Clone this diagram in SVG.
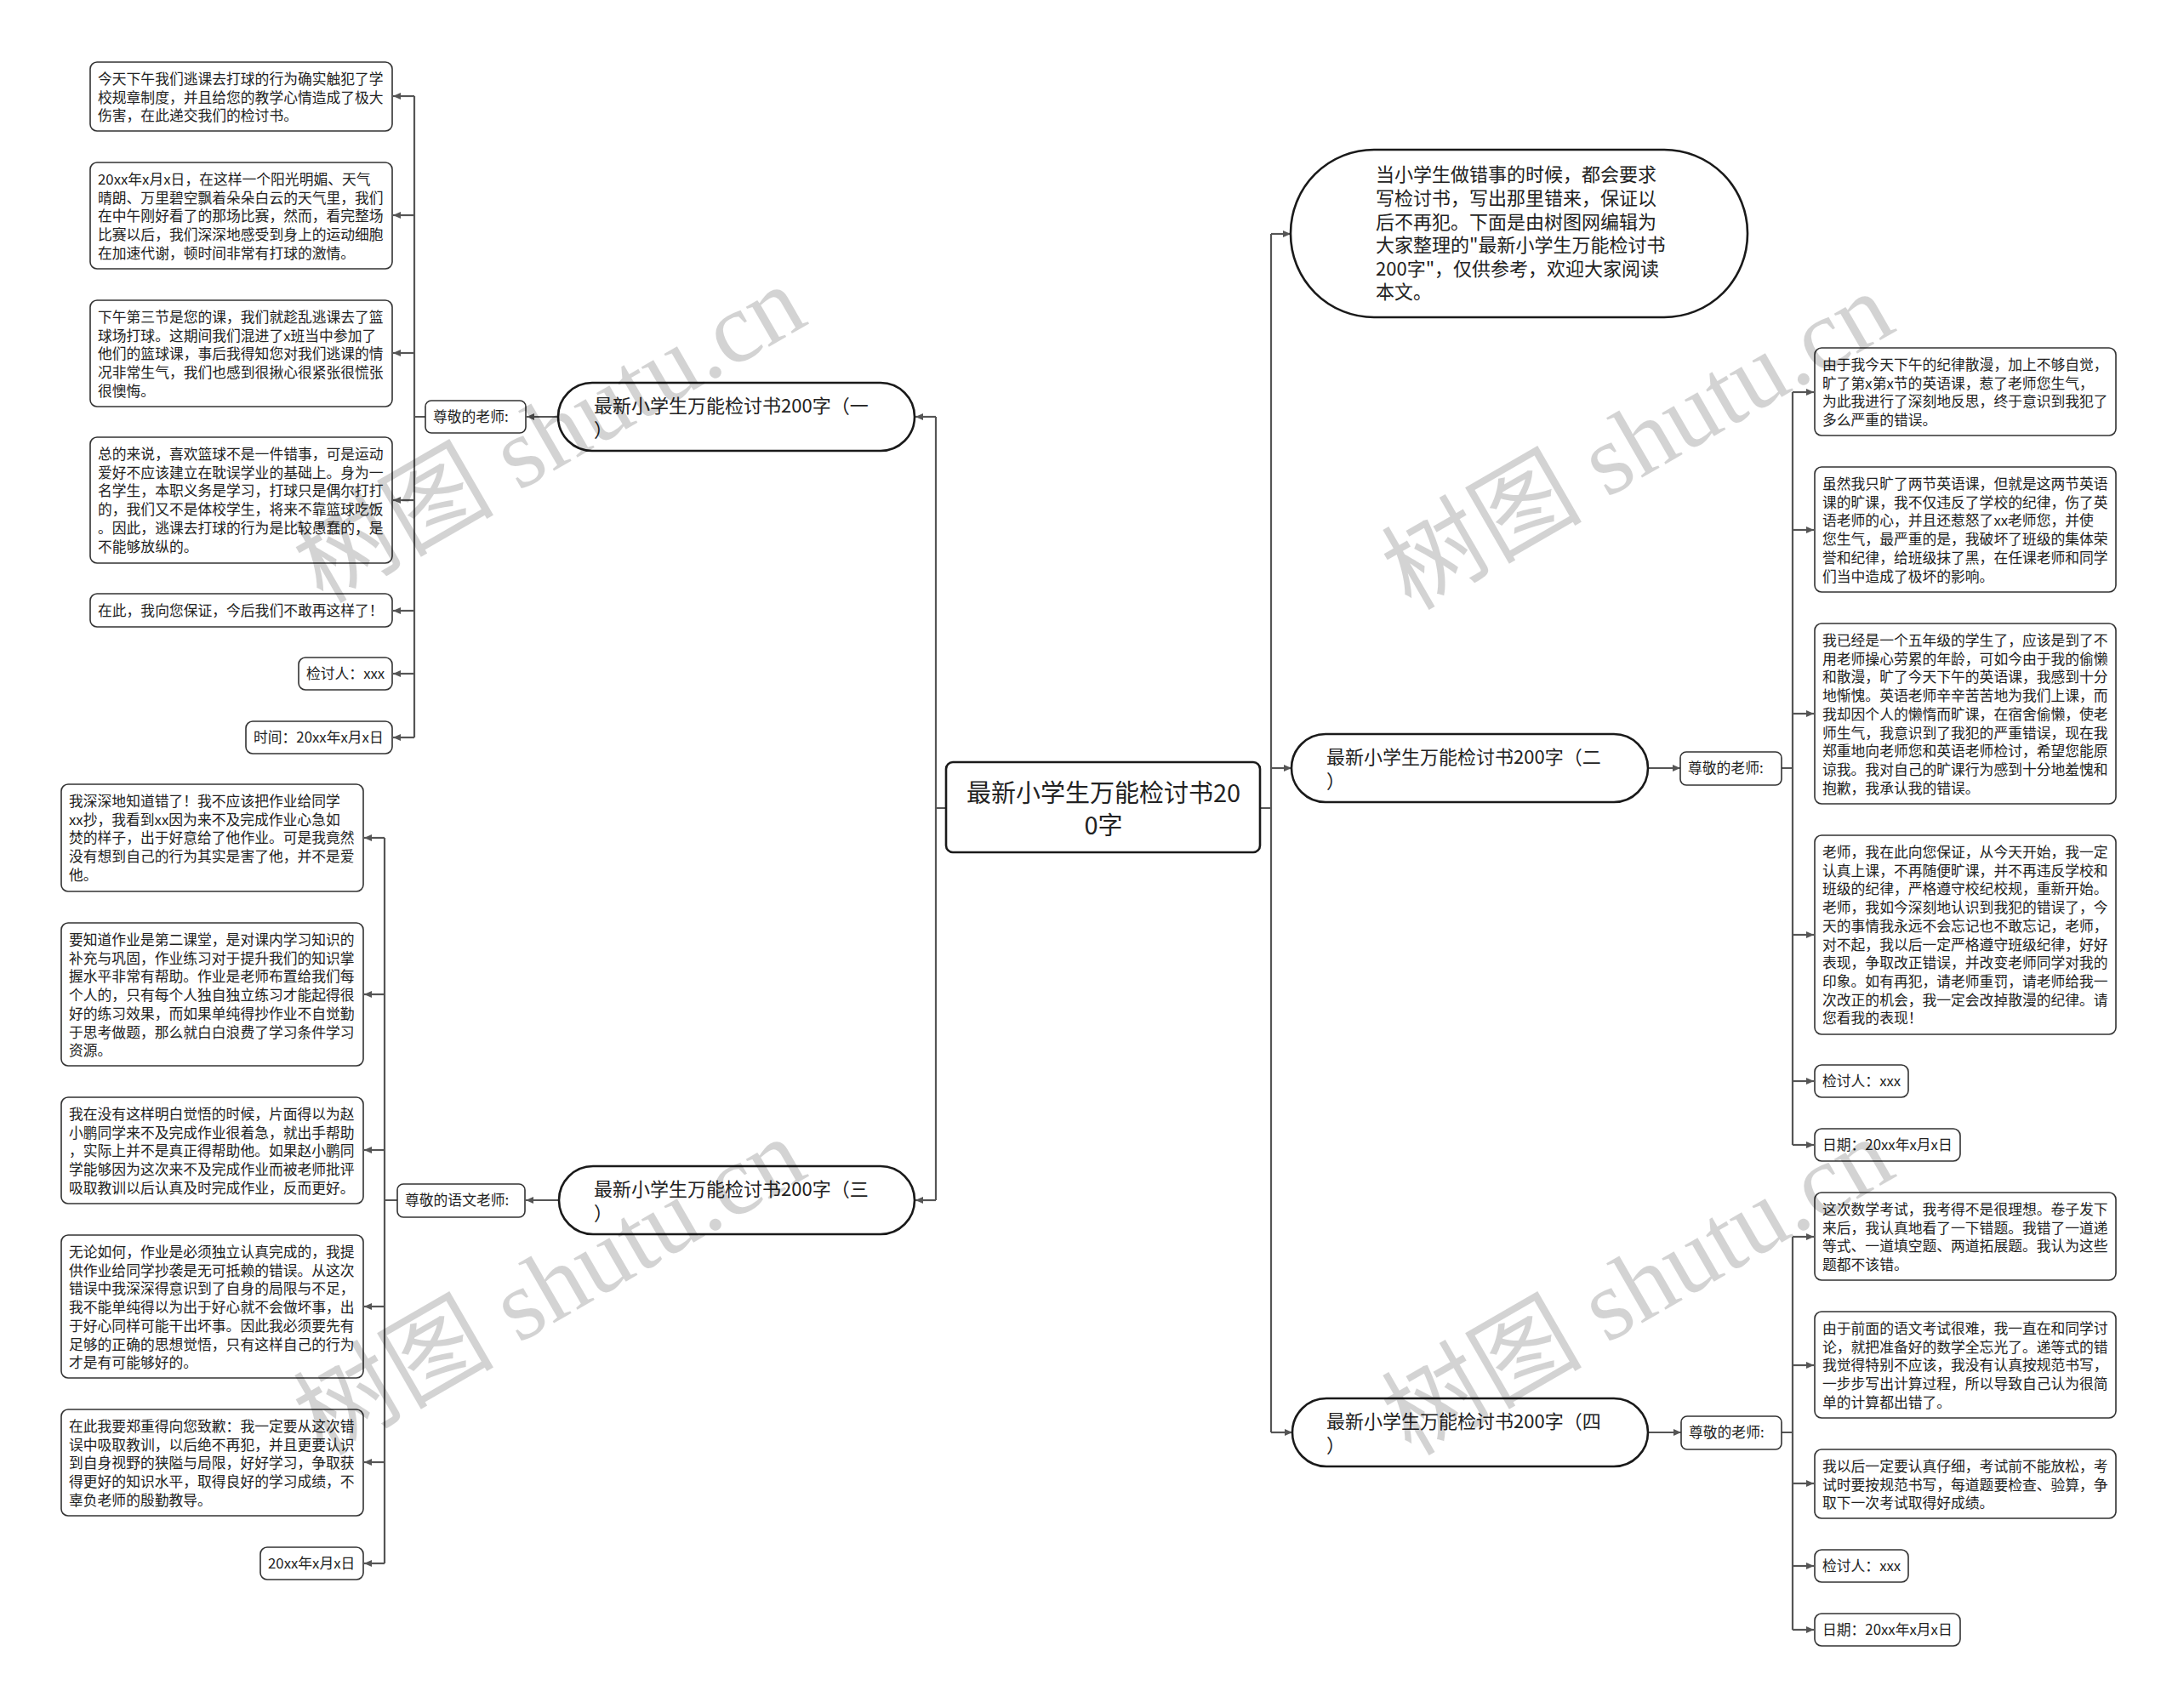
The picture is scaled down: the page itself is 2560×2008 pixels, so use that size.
<svg xmlns="http://www.w3.org/2000/svg" width="2560" height="2008" viewBox="0 0 2560 2008">
<style>
.t{font-family:"Noto Sans CJK SC","Noto Sans",sans-serif;font-size:16.8px;fill:#222}
.b{font-family:"Noto Sans CJK SC","Noto Sans",sans-serif;font-size:22px;fill:#222}
.c{font-family:"Noto Sans CJK SC","Noto Sans",sans-serif;font-size:29px;fill:#222}
.leaf{fill:#fff;stroke:#333;stroke-width:1.6}
.br{fill:#fff;stroke:#1a1a1a;stroke-width:2.6}
.ln{fill:none;stroke:#555;stroke-width:2.2}
.ar{fill:none;stroke:#555;stroke-width:2.2;marker-end:url(#ah)}
.wm{font-family:"Liberation Serif","Noto Sans CJK SC",serif;font-size:118px;fill:#000;opacity:0.17}
</style>
<defs>
<marker id="ah" markerUnits="userSpaceOnUse" markerWidth="9" markerHeight="8" refX="9" refY="4" orient="auto">
<path d="M0,0 L9,4 L0,8 z" fill="#555"/>
</marker>
</defs>
<rect width="2560" height="2008" fill="#fff"/>

<g id="connectors">
<path class="ln" d="M1481,950 H1494 M1494,275 V1684"/>
<path class="ln" d="M1112,950 H1100 M1100,490 V1411"/>
<path class="ar" d="M1494,275 H1517"/>
<path class="ar" d="M1494,903 H1518"/>
<path class="ar" d="M1494,1684 H1519"/>
<path class="ar" d="M1100,490 H1076"/>
<path class="ar" d="M1100,1411 H1076"/>
<path class="ar" d="M656,490 H619"/>
<path class="ar" d="M657,1411 H618"/>
<path class="ar" d="M1937,903 H1975"/>
<path class="ar" d="M1937,1684 H1976"/>
<path class="ln" d="M500,490 H487 M487,113 V867"/>
<path class="ar" d="M487,113 H462"/>
<path class="ar" d="M487,253 H462"/>
<path class="ar" d="M487,415 H462"/>
<path class="ar" d="M487,588 H462"/>
<path class="ar" d="M487,718 H462"/>
<path class="ar" d="M487,792 H462"/>
<path class="ar" d="M487,867 H462"/>
<path class="ln" d="M467,1411 H452 M452,985 V1838"/>
<path class="ar" d="M452,985 H428"/>
<path class="ar" d="M452,1169 H428"/>
<path class="ar" d="M452,1352 H428"/>
<path class="ar" d="M452,1536 H428"/>
<path class="ar" d="M452,1719 H428"/>
<path class="ar" d="M452,1838 H428"/>
<path class="ln" d="M2094,903 H2107 M2107,461 V1346"/>
<path class="ar" d="M2107,461 H2132"/>
<path class="ar" d="M2107,623 H2132"/>
<path class="ar" d="M2107,839 H2132"/>
<path class="ar" d="M2107,1099 H2132"/>
<path class="ar" d="M2107,1271 H2132"/>
<path class="ar" d="M2107,1346 H2132"/>
<path class="ln" d="M2094,1684 H2107 M2107,1454 V1916"/>
<path class="ar" d="M2107,1454 H2132"/>
<path class="ar" d="M2107,1605 H2132"/>
<path class="ar" d="M2107,1744 H2132"/>
<path class="ar" d="M2107,1841 H2132"/>
<path class="ar" d="M2107,1916 H2132"/>
</g>

<g id="center">
<rect class="br" x="1112" y="896" width="369" height="106" rx="8"/>
<text class="c" x="1297" y="943" text-anchor="middle">最新小学生万能检讨书20</text>
<text class="c" x="1297" y="981" text-anchor="middle">0字</text>
</g>

<g id="summary">
<rect class="br" x="1517" y="176" width="537" height="197" rx="98"/>
<text class="b" x="1617" y="213.4">当小学生做错事的时候，都会要求<tspan x="1617" dy="27.6">写检讨书，写出那里错来，保证以</tspan><tspan x="1617" dy="27.6">后不再犯。下面是由树图网编辑为</tspan><tspan x="1617" dy="27.6">大家整理的"最新小学生万能检讨书</tspan><tspan x="1617" dy="27.6">200字"，仅供参考，欢迎大家阅读</tspan><tspan x="1617" dy="27.6">本文。</tspan></text>
</g>

<g id="branch1">
<rect class="br" x="656" y="450" width="419" height="80" rx="40"/>
<text class="b" x="698" y="485.4">最新小学生万能检讨书200字（一<tspan x="698" dy="28">）</tspan></text>
</g>
<g id="branch2">
<rect class="br" x="1518" y="863" width="419" height="80" rx="40"/>
<text class="b" x="1559" y="898.4">最新小学生万能检讨书200字（二<tspan x="1559" dy="28">）</tspan></text>
</g>
<g id="branch3">
<rect class="br" x="657" y="1371" width="418" height="80" rx="40"/>
<text class="b" x="698" y="1406.4">最新小学生万能检讨书200字（三<tspan x="698" dy="28">）</tspan></text>
</g>
<g id="branch4">
<rect class="br" x="1519" y="1644" width="418" height="80" rx="40"/>
<text class="b" x="1559" y="1679.4">最新小学生万能检讨书200字（四<tspan x="1559" dy="28">）</tspan></text>
</g>

<g id="label1">
<rect class="leaf" x="500" y="471" width="118" height="38" rx="7"/>
<text class="t" x="509" y="496">尊敬的老师:</text>
</g>
<g id="label3">
<rect class="leaf" x="467" y="1392" width="150" height="39" rx="7"/>
<text class="t" x="476" y="1417">尊敬的语文老师:</text>
</g>
<g id="label2">
<rect class="leaf" x="1975" y="884" width="119" height="39" rx="7"/>
<text class="t" x="1984" y="909">尊敬的老师:</text>
</g>
<g id="label4">
<rect class="leaf" x="1976" y="1665" width="118" height="39" rx="7"/>
<text class="t" x="1985" y="1690">尊敬的老师:</text>
</g>

<g id="b1l1">
<rect class="leaf" x="106" y="73" width="355" height="81" rx="8"/>
<text class="t" x="115" y="99">今天下午我们逃课去打球的行为确实触犯了学<tspan x="115" dy="21.7">校规章制度，并且给您的教学心情造成了极大</tspan><tspan x="115" dy="21.7">伤害，在此递交我们的检讨书。</tspan></text>
</g>
<g id="b1l2">
<rect class="leaf" x="106" y="191" width="355" height="125" rx="8"/>
<text class="t" x="115" y="217">20xx年x月x日，在这样一个阳光明媚、天气<tspan x="115" dy="21.7">晴朗、万里碧空飘着朵朵白云的天气里，我们</tspan><tspan x="115" dy="21.7">在中午刚好看了的那场比赛，然而，看完整场</tspan><tspan x="115" dy="21.7">比赛以后，我们深深地感受到身上的运动细胞</tspan><tspan x="115" dy="21.7">在加速代谢，顿时间非常有打球的激情。</tspan></text>
</g>
<g id="b1l3">
<rect class="leaf" x="106" y="353" width="355" height="125" rx="8"/>
<text class="t" x="115" y="379">下午第三节是您的课，我们就趁乱逃课去了篮<tspan x="115" dy="21.7">球场打球。这期间我们混进了x班当中参加了</tspan><tspan x="115" dy="21.7">他们的篮球课，事后我得知您对我们逃课的情</tspan><tspan x="115" dy="21.7">况非常生气，我们也感到很揪心很紧张很慌张</tspan><tspan x="115" dy="21.7">很懊悔。</tspan></text>
</g>
<g id="b1l4">
<rect class="leaf" x="106" y="514" width="355" height="148" rx="8"/>
<text class="t" x="115" y="540">总的来说，喜欢篮球不是一件错事，可是运动<tspan x="115" dy="21.7">爱好不应该建立在耽误学业的基础上。身为一</tspan><tspan x="115" dy="21.7">名学生，本职义务是学习，打球只是偶尔打打</tspan><tspan x="115" dy="21.7">的，我们又不是体校学生，将来不靠篮球吃饭</tspan><tspan x="115" dy="21.7">。因此，逃课去打球的行为是比较愚蠢的，是</tspan><tspan x="115" dy="21.7">不能够放纵的。</tspan></text>
</g>
<g id="b1l5">
<rect class="leaf" x="106" y="698" width="355" height="39" rx="8"/>
<text class="t" x="115" y="724">在此，我向您保证，今后我们不敢再这样了！</text>
</g>
<g id="b1l6">
<rect class="leaf" x="351" y="773" width="110" height="38" rx="8"/>
<text class="t" x="360" y="798">检讨人：xxx</text>
</g>
<g id="b1l7">
<rect class="leaf" x="289" y="848" width="172" height="38" rx="8"/>
<text class="t" x="298" y="873">时间：20xx年x月x日</text>
</g>

<g id="b3l1">
<rect class="leaf" x="72" y="922" width="355" height="126" rx="8"/>
<text class="t" x="81" y="948">我深深地知道错了！我不应该把作业给同学<tspan x="81" dy="21.7">xx抄，我看到xx因为来不及完成作业心急如</tspan><tspan x="81" dy="21.7">焚的样子，出于好意给了他作业。可是我竟然</tspan><tspan x="81" dy="21.7">没有想到自己的行为其实是害了他，并不是爱</tspan><tspan x="81" dy="21.7">他。</tspan></text>
</g>
<g id="b3l2">
<rect class="leaf" x="72" y="1085" width="355" height="168" rx="8"/>
<text class="t" x="81" y="1111">要知道作业是第二课堂，是对课内学习知识的<tspan x="81" dy="21.7">补充与巩固，作业练习对于提升我们的知识掌</tspan><tspan x="81" dy="21.7">握水平非常有帮助。作业是老师布置给我们每</tspan><tspan x="81" dy="21.7">个人的，只有每个人独自独立练习才能起得很</tspan><tspan x="81" dy="21.7">好的练习效果，而如果单纯得抄作业不自觉勤</tspan><tspan x="81" dy="21.7">于思考做题，那么就白白浪费了学习条件学习</tspan><tspan x="81" dy="21.7">资源。</tspan></text>
</g>
<g id="b3l3">
<rect class="leaf" x="72" y="1290" width="355" height="125" rx="8"/>
<text class="t" x="81" y="1316">我在没有这样明白觉悟的时候，片面得以为赵<tspan x="81" dy="21.7">小鹏同学来不及完成作业很着急，就出手帮助</tspan><tspan x="81" dy="21.7">，实际上并不是真正得帮助他。如果赵小鹏同</tspan><tspan x="81" dy="21.7">学能够因为这次来不及完成作业而被老师批评</tspan><tspan x="81" dy="21.7">吸取教训以后认真及时完成作业，反而更好。</tspan></text>
</g>
<g id="b3l4">
<rect class="leaf" x="72" y="1452" width="355" height="168" rx="8"/>
<text class="t" x="81" y="1478">无论如何，作业是必须独立认真完成的，我提<tspan x="81" dy="21.7">供作业给同学抄袭是无可抵赖的错误。从这次</tspan><tspan x="81" dy="21.7">错误中我深深得意识到了自身的局限与不足，</tspan><tspan x="81" dy="21.7">我不能单纯得以为出于好心就不会做坏事，出</tspan><tspan x="81" dy="21.7">于好心同样可能干出坏事。因此我必须要先有</tspan><tspan x="81" dy="21.7">足够的正确的思想觉悟，只有这样自己的行为</tspan><tspan x="81" dy="21.7">才是有可能够好的。</tspan></text>
</g>
<g id="b3l5">
<rect class="leaf" x="72" y="1657" width="355" height="125" rx="8"/>
<text class="t" x="81" y="1683">在此我要郑重得向您致歉：我一定要从这次错<tspan x="81" dy="21.7">误中吸取教训，以后绝不再犯，并且更要认识</tspan><tspan x="81" dy="21.7">到自身视野的狭隘与局限，好好学习，争取获</tspan><tspan x="81" dy="21.7">得更好的知识水平，取得良好的学习成绩，不</tspan><tspan x="81" dy="21.7">辜负老师的殷勤教导。</tspan></text>
</g>
<g id="b3l6">
<rect class="leaf" x="306" y="1819" width="121" height="38" rx="8"/>
<text class="t" x="315" y="1844">20xx年x月x日</text>
</g>

<g id="b2l1">
<rect class="leaf" x="2133" y="409" width="354" height="103" rx="8"/>
<text class="t" x="2142" y="435">由于我今天下午的纪律散漫，加上不够自觉，<tspan x="2142" dy="21.7">旷了第x第x节的英语课，惹了老师您生气，</tspan><tspan x="2142" dy="21.7">为此我进行了深刻地反思，终于意识到我犯了</tspan><tspan x="2142" dy="21.7">多么严重的错误。</tspan></text>
</g>
<g id="b2l2">
<rect class="leaf" x="2133" y="549" width="354" height="147" rx="8"/>
<text class="t" x="2142" y="575">虽然我只旷了两节英语课，但就是这两节英语<tspan x="2142" dy="21.7">课的旷课，我不仅违反了学校的纪律，伤了英</tspan><tspan x="2142" dy="21.7">语老师的心，并且还惹怒了xx老师您，并使</tspan><tspan x="2142" dy="21.7">您生气，最严重的是，我破坏了班级的集体荣</tspan><tspan x="2142" dy="21.7">誉和纪律，给班级抹了黑，在任课老师和同学</tspan><tspan x="2142" dy="21.7">们当中造成了极坏的影响。</tspan></text>
</g>
<g id="b2l3">
<rect class="leaf" x="2133" y="733" width="354" height="212" rx="8"/>
<text class="t" x="2142" y="759">我已经是一个五年级的学生了，应该是到了不<tspan x="2142" dy="21.7">用老师操心劳累的年龄，可如今由于我的偷懒</tspan><tspan x="2142" dy="21.7">和散漫，旷了今天下午的英语课，我感到十分</tspan><tspan x="2142" dy="21.7">地惭愧。英语老师辛辛苦苦地为我们上课，而</tspan><tspan x="2142" dy="21.7">我却因个人的懒惰而旷课，在宿舍偷懒，使老</tspan><tspan x="2142" dy="21.7">师生气，我意识到了我犯的严重错误，现在我</tspan><tspan x="2142" dy="21.7">郑重地向老师您和英语老师检讨，希望您能原</tspan><tspan x="2142" dy="21.7">谅我。我对自己的旷课行为感到十分地羞愧和</tspan><tspan x="2142" dy="21.7">抱歉，我承认我的错误。</tspan></text>
</g>
<g id="b2l4">
<rect class="leaf" x="2133" y="982" width="354" height="234" rx="8"/>
<text class="t" x="2142" y="1008">老师，我在此向您保证，从今天开始，我一定<tspan x="2142" dy="21.7">认真上课，不再随便旷课，并不再违反学校和</tspan><tspan x="2142" dy="21.7">班级的纪律，严格遵守校纪校规，重新开始。</tspan><tspan x="2142" dy="21.7">老师，我如今深刻地认识到我犯的错误了，今</tspan><tspan x="2142" dy="21.7">天的事情我永远不会忘记也不敢忘记，老师，</tspan><tspan x="2142" dy="21.7">对不起，我以后一定严格遵守班级纪律，好好</tspan><tspan x="2142" dy="21.7">表现，争取改正错误，并改变老师同学对我的</tspan><tspan x="2142" dy="21.7">印象。如有再犯，请老师重罚，请老师给我一</tspan><tspan x="2142" dy="21.7">次改正的机会，我一定会改掉散漫的纪律。请</tspan><tspan x="2142" dy="21.7">您看我的表现！</tspan></text>
</g>
<g id="b2l5">
<rect class="leaf" x="2133" y="1252" width="110" height="38" rx="8"/>
<text class="t" x="2142" y="1277">检讨人：xxx</text>
</g>
<g id="b2l6">
<rect class="leaf" x="2133" y="1327" width="171" height="38" rx="8"/>
<text class="t" x="2142" y="1352">日期：20xx年x月x日</text>
</g>

<g id="b4l1">
<rect class="leaf" x="2133" y="1402" width="354" height="103" rx="8"/>
<text class="t" x="2142" y="1428">这次数学考试，我考得不是很理想。卷子发下<tspan x="2142" dy="21.7">来后，我认真地看了一下错题。我错了一道递</tspan><tspan x="2142" dy="21.7">等式、一道填空题、两道拓展题。我认为这些</tspan><tspan x="2142" dy="21.7">题都不该错。</tspan></text>
</g>
<g id="b4l2">
<rect class="leaf" x="2133" y="1542" width="354" height="125" rx="8"/>
<text class="t" x="2142" y="1568">由于前面的语文考试很难，我一直在和同学讨<tspan x="2142" dy="21.7">论，就把准备好的数学全忘光了。递等式的错</tspan><tspan x="2142" dy="21.7">我觉得特别不应该，我没有认真按规范书写，</tspan><tspan x="2142" dy="21.7">一步步写出计算过程，所以导致自己认为很简</tspan><tspan x="2142" dy="21.7">单的计算都出错了。</tspan></text>
</g>
<g id="b4l3">
<rect class="leaf" x="2133" y="1704" width="354" height="81" rx="8"/>
<text class="t" x="2142" y="1730">我以后一定要认真仔细，考试前不能放松，考<tspan x="2142" dy="21.7">试时要按规范书写，每道题要检查、验算，争</tspan><tspan x="2142" dy="21.7">取下一次考试取得好成绩。</tspan></text>
</g>
<g id="b4l4">
<rect class="leaf" x="2133" y="1822" width="110" height="38" rx="8"/>
<text class="t" x="2142" y="1847">检讨人：xxx</text>
</g>
<g id="b4l5">
<rect class="leaf" x="2133" y="1897" width="171" height="38" rx="8"/>
<text class="t" x="2142" y="1922">日期：20xx年x月x日</text>
</g>

<g id="watermarks">
<text class="wm" x="647" y="550" text-anchor="middle" transform="rotate(-30 647 512)">树图 shutu.cn</text>
<text class="wm" x="1926" y="558" text-anchor="middle" transform="rotate(-30 1926 520)">树图 shutu.cn</text>
<text class="wm" x="647" y="1552" text-anchor="middle" transform="rotate(-30 647 1514)">树图 shutu.cn</text>
<text class="wm" x="1926" y="1552" text-anchor="middle" transform="rotate(-30 1926 1514)">树图 shutu.cn</text>
</g>
</svg>
